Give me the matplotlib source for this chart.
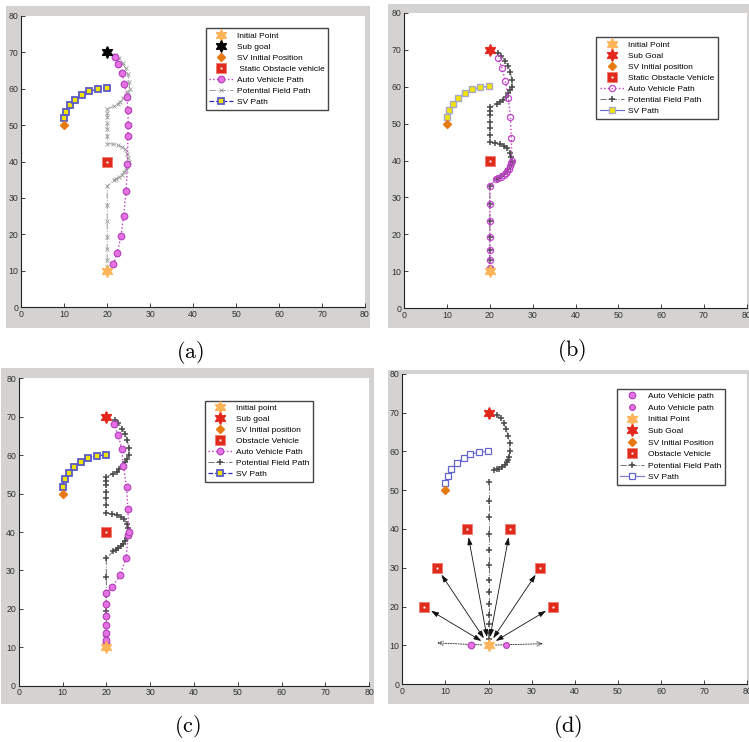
import matplotlib.pyplot as plt
from matplotlib.patches import Rectangle

plt.rcParams['font.family'] = ['Liberation Sans', 'DejaVu Sans']
plt.rcParams['mathtext.fontset'] = 'cm'

# ---- data ----
init_pt = (20, 10)
goal_pt = (20, 70)
sv_start = (10, 50)
obs_pt = (20, 40)

sv_x = [10.0, 10.5, 11.4, 12.6, 14.2, 15.8, 17.8, 19.9]
sv_y = [51.8, 53.7, 55.4, 57.0, 58.3, 59.3, 59.8, 60.1]

# potential field path (a, b, c)
pf_x = [20, 20, 20, 20, 20, 20, 20, 20,
        21.6, 22.1, 22.7, 23.4, 23.9, 24.3, 24.6, 24.9, 25.1,
        24.9, 24.7, 24.1, 23.4, 22.4, 21.3, 20.0,
        20, 20, 20, 20, 20, 20,
        21.6, 22.4, 23.0, 23.7, 24.3, 24.8, 25.2,
        25.1, 24.8, 24.3, 23.6, 22.7, 21.9]
pf_y = [10, 11.0, 13.0, 15.9, 19.4, 23.7, 28.2, 33.2,
        35.0, 35.3, 35.8, 36.3, 37.0, 37.7, 38.5, 39.3, 39.9,
        41.0, 42.1, 43.3, 44.0, 44.5, 44.8, 44.9,
        46.9, 48.9, 50.5, 52.2, 53.4, 54.4,
        55.2, 55.7, 56.4, 57.3, 58.2, 59.1, 60.0,
        61.9, 63.9, 65.6, 66.9, 68.3, 69.2]

# auto vehicle paths
auto_a_x = [21.4, 22.3, 23.2, 23.8, 24.4, 24.7, 24.8, 24.9, 24.8, 24.6, 24.0, 23.4, 22.6, 21.8]
auto_a_y = [11.8, 14.8, 19.5, 25.1, 31.9, 39.3, 47.1, 49.9, 54.0, 57.8, 61.2, 64.4, 66.7, 68.6]

auto_b_x = [20, 20, 20, 20, 20, 20, 20,
            21.5, 22.0, 22.6, 23.2, 23.7, 24.1, 24.5, 24.8, 25.0, 25.1,
            25.0, 24.8, 24.3, 23.6, 22.8, 21.9]
auto_b_y = [11.0, 13.0, 15.9, 19.4, 23.7, 28.2, 33.2,
            35.1, 35.3, 35.6, 36.0, 36.5, 37.1, 37.8, 38.6, 39.3, 39.9,
            46.0, 51.7, 57.0, 61.5, 65.1, 67.8]

auto_c_x = [20, 20, 20, 20, 20, 20, 20, 20,
            21.4, 23.1, 24.5, 25.0, 25.1, 24.9, 24.6, 23.9, 23.5, 22.7, 21.7]
auto_c_y = [10.5, 11.2, 12.0, 13.6, 15.9, 18.2, 21.2, 24.2,
            25.8, 28.7, 33.2, 39.3, 40.0, 46.1, 51.8, 57.1, 61.6, 65.3, 68.0]

# panel (d)
pf_d_x = [20] * 14
pf_d_y = [10, 11.7, 13.2, 15.4, 17.8, 20.6, 23.7, 26.9, 30.7, 34.5, 38.7, 43.0, 47.3, 52.0]
pf_d_arc_x = [21.2, 21.9, 22.5, 23.1, 23.7, 24.2, 24.6, 24.8, 24.9, 24.9, 24.6, 24.1, 23.5, 22.8, 21.9]
pf_d_arc_y = [55.1, 55.4, 55.6, 56.1, 56.6, 57.2, 57.8, 58.5, 60.0, 62.1, 64.0, 65.7, 67.3, 68.6, 69.4]
obs_d_x = [5, 8, 15, 25, 32, 35]
obs_d_y = [20, 30, 40, 40, 30, 20]
auto_d_x = [16, 24]
auto_d_y = [10, 10]
side_end_x = [8.1, 32.6]
side_end_y = [10.6, 10.4]

ticks = [0, 10, 20, 30, 40, 50, 60, 70, 80]

C_INIT = '#ffb45a'
C_RED = '#e4261c'
C_SV0 = '#e67a10'
C_OBS = '#e02a1c'
C_AUTO = '#c23cc6'
C_AUTO_FACE = '#e472e2'
C_AUTO_EDGE = '#b23fb8'
GRAY_BG = '#d4d3d1'
HEX = (6, 1, 0)

fig = plt.figure(figsize=(7.49, 7.42), dpi=100)
W, H = 749.0, 742.0


def px_rect(x0, y0, x1, y1):
    fig.patches.append(Rectangle((x0 / W, 1 - y1 / H), (x1 - x0) / W, (y1 - y0) / H,
                                 transform=fig.transFigure, facecolor=GRAY_BG,
                                 edgecolor='none', zorder=-10))


def px_axes(x0, y0, x1, y1):
    ax = fig.add_axes([x0 / W, 1 - y1 / H, (x1 - x0) / W, (y1 - y0) / H])
    ax.set_xlim(0, 80)
    ax.set_ylim(0, 80)
    ax.set_xticks(ticks)
    ax.set_yticks(ticks)
    ax.tick_params(direction='in', length=3, width=0.6, labelsize=6.3,
                   colors='#222222', labelcolor='#333333', pad=2)
    for s in ['top', 'right']:
        ax.spines[s].set_visible(False)
    for s in ['left', 'bottom']:
        ax.spines[s].set_linewidth(0.8)
        ax.spines[s].set_color('#222222')
    return ax


def draw_points(ax, goal_color):
    h_init, = ax.plot(*init_pt, ls='none', marker=HEX, ms=8.5, color=C_INIT, zorder=6)
    h_goal, = ax.plot(*goal_pt, ls='none', marker=HEX, ms=8.5, color=goal_color, zorder=6)
    h_sv0, = ax.plot(*sv_start, ls='none', marker='D', ms=4, color=C_SV0, zorder=6)
    return h_init, h_goal, h_sv0


def obstacle(ax, xs, ys):
    a, = ax.plot(xs, ys, ls='none', marker='s', ms=6.8, mfc=C_OBS, mec='#f07a70',
                 mew=0.6, zorder=6)
    b, = ax.plot(xs, ys, ls='none', marker='s', ms=1.4, mfc='white', mec='white',
                 mew=0, zorder=7)
    return (a, b)


def add_legend(ax, handles, labels, x, y, spacing=0.38):
    ax.legend(handles, labels, loc='upper left', bbox_to_anchor=(x, y),
              bbox_transform=ax.transData, fontsize=6.0, frameon=True,
              fancybox=False, edgecolor='#454545', framealpha=1,
              borderpad=0.45, labelspacing=spacing, handlelength=2.85,
              handletextpad=0.45, borderaxespad=0)
    ax.get_legend().get_frame().set_linewidth(1.0)


# ---------- (a) ----------
px_rect(6, 6, 370, 328)
ax = px_axes(21.3, 15.7, 365, 307.3)
h_pf, = ax.plot(pf_x, pf_y, ls='-.', lw=0.7, color='#9a9a9a', marker='x', ms=2.2,
                mew=0.6, zorder=3)
h_auto, = ax.plot(auto_a_x, auto_a_y, ls=':', lw=1.0, color=C_AUTO, marker='o', ms=4.8,
                  mfc=C_AUTO_FACE, mec=C_AUTO_EDGE, mew=0.8, zorder=4)
h_sv, = ax.plot(sv_x, sv_y, ls='--', lw=0.9, color='#2a2ab8', marker='s', ms=4.8,
                mfc='#f2e400', mec='#5a5ac8', mew=1.3, zorder=4)
h_obs = obstacle(ax, [obs_pt[0]], [obs_pt[1]])
h_init, h_goal, h_sv0 = draw_points(ax, 'black')
add_legend(ax, [h_init, h_goal, h_sv0, h_obs, h_auto, h_pf, h_sv],
           ['Initial Point', 'Sub goal', 'SV Initial Position', ' Static Obstacle vehicle',
            'Auto Vehicle Path', 'Potential Field Path', 'SV Path'], 42.9, 76.5)

# ---------- (b) ----------
px_rect(388, 4, 749, 328)
ax = px_axes(404.3, 12.7, 746.7, 308.3)
h_pf, = ax.plot(pf_x, pf_y, ls='-.', lw=0.7, color='#707070', marker='+', ms=4.5,
                mew=1.1, mec='#4a4a4a', zorder=3)
h_auto, = ax.plot(auto_b_x, auto_b_y, ls=':', lw=1.0, color=C_AUTO, marker='o', ms=4.4,
                  mfc='none', mec='#c044c8', mew=0.9, zorder=4)
h_sv, = ax.plot(sv_x, sv_y, ls='-', lw=0.8, color='#6a6ac4', marker='s', ms=4.8,
                mfc='#f2e400', mec='#a8a8c8', mew=1.0, zorder=4)
h_obs = obstacle(ax, [obs_pt[0]], [obs_pt[1]])
h_init, h_goal, h_sv0 = draw_points(ax, C_RED)
add_legend(ax, [h_init, h_goal, h_sv0, h_obs, h_auto, h_pf, h_sv],
           ['Initial Point', 'Sub Goal', 'SV Initial position', 'Static Obstacle Vehicle',
            'Auto Vehicle Path', 'Potential Field Path', 'SV Path'], 44.9, 73.3)

# ---------- (c) ----------
px_rect(1, 368, 374, 704)
ax = px_axes(18.7, 378.3, 369.3, 685.7)
h_pf, = ax.plot(pf_x, pf_y, ls='-.', lw=0.7, color='#707070', marker='+', ms=4.5,
                mew=1.1, mec='#4a4a4a', zorder=3)
h_auto, = ax.plot(auto_c_x, auto_c_y, ls=':', lw=1.0, color=C_AUTO, marker='o', ms=4.8,
                  mfc=C_AUTO_FACE, mec=C_AUTO_EDGE, mew=0.8, zorder=4)
h_sv, = ax.plot(sv_x, sv_y, ls='--', lw=0.9, color='#2a2ab8', marker='s', ms=4.8,
                mfc='#f2e400', mec='#5a5ac8', mew=1.3, zorder=4)
h_obs = obstacle(ax, [obs_pt[0]], [obs_pt[1]])
h_init, h_goal, h_sv0 = draw_points(ax, C_RED)
add_legend(ax, [h_init, h_goal, h_sv0, h_obs, h_auto, h_pf, h_sv],
           ['Initial point', 'Sub goal', 'SV Initial position', 'Obstacle Vehicle',
            'Auto Vehicle Path', 'Potential Field Path', 'SV Path'], 42.4, 74.2)

# ---------- (d) ----------
px_rect(388, 370, 749, 704)
ax = px_axes(402.3, 374, 747.3, 684)
h_pf, = ax.plot(pf_d_x, pf_d_y, ls='-.', lw=0.7, color='#707070', marker='+', ms=4.5,
                mew=1.1, mec='#4a4a4a', zorder=3)
ax.plot(pf_d_arc_x, pf_d_arc_y, ls='-.', lw=0.7, color='#707070', marker='+', ms=4.5,
        mew=1.1, mec='#4a4a4a', zorder=3)
h_sv, = ax.plot(sv_x, sv_y, ls='-', lw=0.9, color='#8080d4', marker='s', ms=4.8,
                mfc='white', mec='#6464cc', mew=0.9, zorder=4)
for ox, oy in zip(obs_d_x, obs_d_y):
    ax.annotate('', xy=(ox, oy), xytext=init_pt,
                arrowprops=dict(arrowstyle='<|-|>,head_length=0.45,head_width=0.15',
                                color='#111111', lw=0.6, shrinkA=6, shrinkB=6))
for ex, ey in zip(side_end_x, side_end_y):
    ax.annotate('', xy=(ex, ey), xytext=init_pt,
                arrowprops=dict(arrowstyle='->,head_length=0.35,head_width=0.15',
                                color='#222222', lw=0.6, ls=(0, (1.5, 1.5)),
                                shrinkA=5, shrinkB=0))
h_a1, = ax.plot(auto_d_x[0], auto_d_y[0], ls='none', marker='o', ms=4.8,
                mfc=C_AUTO_FACE, mec=C_AUTO_EDGE, mew=0.8, zorder=5)
h_a2, = ax.plot(auto_d_x[1], auto_d_y[1], ls='none', marker='o', ms=4.2,
                mfc=C_AUTO_FACE, mec=C_AUTO_EDGE, mew=0.8, zorder=5)
h_obs = obstacle(ax, obs_d_x, obs_d_y)
h_init, h_goal, h_sv0 = draw_points(ax, C_RED)
add_legend(ax, [h_a1, h_a2, h_init, h_goal, h_sv0, h_obs, h_pf, h_sv],
           ['Auto Vehicle path', 'Auto Vehicle path', 'Initial Point', 'Sub Goal',
            'SV Initial Position', 'Obstacle Vehicle', 'Potential Field Path', 'SV Path'],
           49.7, 76.2, spacing=0.45)

# captions
for lab, cx, cy in [('a', 190, 352), ('b', 572, 350), ('c', 187, 727), ('d', 568, 727)]:
    fig.text(cx / W, 1 - cy / H, r'$\mathrm{(%s)}$' % lab, fontsize=16,
             ha='center', va='center')

fig.savefig('out.png', dpi=100, facecolor='white')
